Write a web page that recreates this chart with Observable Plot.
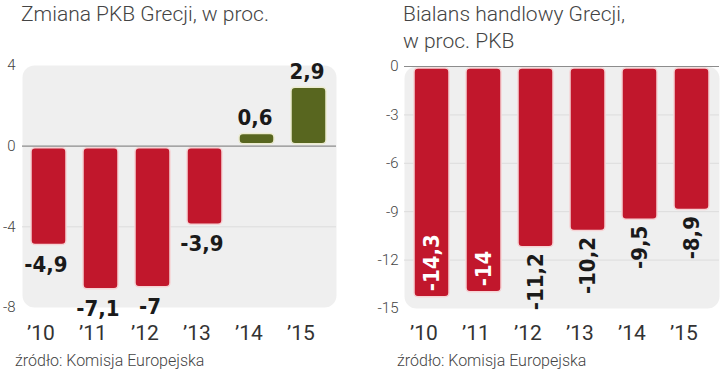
<!DOCTYPE html>
<html>
<head>
<meta charset="utf-8">
<script src="https://cdn.jsdelivr.net/npm/d3@7"></script>
<script src="https://cdn.jsdelivr.net/npm/@observablehq/plot@0.6"></script>
<style>
  html, body { margin: 0; padding: 0; background: #fff; }
  body { width: 720px; height: 372px; overflow: hidden; position: relative; font-family: Roboto, sans-serif; }
  .title { position: absolute; top: 1px; font-size: 21px; font-weight: 300; line-height: 27px; color: #444; white-space: nowrap; }
  .src { position: absolute; top: 353px; font-size: 16px; font-weight: 300; line-height: 16px; color: #444; white-space: nowrap; }
  .panel { position: absolute; top: 50px; width: 360px; height: 295px; }
</style>
</head>
<body>
<div class="title" style="left:21px">Zmiana PKB Grecji, w proc.</div>
<div class="title" style="left:403px">Bialans handlowy Grecji,<br>w proc. PKB</div>
<div class="panel" id="left" style="left:0"></div>
<div class="panel" id="right" style="left:360px"></div>
<div class="src" style="left:15px">źródło: Komisja Europejska</div>
<div class="src" style="left:397px">źródło: Komisja Europejska</div>
<script>
const years = ["’10", "’11", "’12", "’13", "’14", "’15"];
const gdpChange = [-4.9, -7.1, -7, -3.9, 0.6, 2.9];
const tradeBalance = [-14.3, -14, -11.2, -10.2, -9.5, -8.9];
const gdpTicks = [4, 0, -4, -8];
const tradeTicks = [0, -3, -6, -9, -12, -15];

const RED = "#c1172c", GREEN = "#58661f";
const fmt = v => String(v).replace(".", ",");
const gdp = years.map((year, i) => ({year, v: gdpChange[i]}));
const trade = years.map((year, i) => ({year, v: tradeBalance[i]}));

const labelFont = {fontFamily: "'DejaVu Sans Condensed', 'DejaVu Sans', sans-serif", fontWeight: "bold", fontSize: 22};
const commonStyle = {background: "transparent", overflow: "visible", fontFamily: "Roboto, sans-serif"};
const interior = (ticks) => ticks.filter(t => t !== 0 && t > d3.min(ticks) && t < d3.max(ticks));

const left = Plot.plot({
  width: 360, height: 295,
  marginTop: 15, marginBottom: 38, marginLeft: 22, marginRight: 24,
  style: commonStyle,
  x: {domain: years, paddingInner: 0.32, paddingOuter: 0.14, axis: null},
  y: {domain: [d3.min(gdpTicks), d3.max(gdpTicks)], axis: null},
  marks: [
    Plot.frame({fill: "#efefef", stroke: "none", rx: 12}),
    Plot.ruleY(interior(gdpTicks), {stroke: "#dcdcdc"}),
    Plot.ruleY([0], {stroke: "#8c8c8c", strokeWidth: 1.2}),
    Plot.barY(gdp.filter(d => d.v < 0), {x: "year", y: "v", fill: RED, stroke: "#f6d3d5", strokeWidth: 1.5, rx: 4, insetTop: 2}),
    Plot.barY(gdp.filter(d => d.v >= 0), {x: "year", y: "v", fill: GREEN, stroke: "#ecebd0", strokeWidth: 1.5, rx: 4, insetBottom: 2}),
    Plot.text(gdp.filter(d => d.v < 0), {x: "year", y: "v", text: d => fmt(d.v), lineAnchor: "top", dy: 11, dx: -3, fill: "#1a1a1a", ...labelFont}),
    Plot.text(gdp.filter(d => d.v >= 0), {x: "year", y: "v", text: d => fmt(d.v), lineAnchor: "bottom", dy: -9, dx: -2, fill: "#1a1a1a", ...labelFont}),
    Plot.axisY(gdpTicks, {tickSize: 0, tickPadding: 7, tickFormat: d => String(d), fontSize: 15, fontWeight: 300, fill: "#444", label: null}),
    Plot.axisX({tickSize: 0, tickPadding: 18, fontSize: 21, fill: "#333", dx: -8, label: null})
  ]
});
document.getElementById("left").appendChild(left);

const right = Plot.plot({
  width: 360, height: 295,
  marginTop: 16, marginBottom: 37, marginLeft: 44, marginRight: 1,
  style: commonStyle,
  x: {domain: years, paddingInner: 0.32, paddingOuter: 0.14, axis: null},
  y: {domain: [d3.min(tradeTicks), d3.max(tradeTicks)], axis: null},
  marks: [
    Plot.frame({fill: "#efefef", stroke: "none", rx: 12}),
    Plot.ruleY(interior(tradeTicks), {stroke: "#dcdcdc"}),
    Plot.ruleY([0], {stroke: "#8c8c8c", strokeWidth: 1.2}),
    Plot.barY(trade, {x: "year", y: "v", fill: RED, stroke: "#f6d3d5", strokeWidth: 1.5, rx: 4, insetTop: 2}),
    Plot.text(trade.filter(d => d.v < -13), {x: "year", y: "v", text: d => fmt(d.v), rotate: -90, textAnchor: "start", lineAnchor: "middle", dy: -6, fill: "#fff", ...labelFont}),
    Plot.text(trade.filter(d => d.v >= -13), {x: "year", y: "v", text: d => fmt(d.v), rotate: -90, textAnchor: "end", lineAnchor: "middle", dy: 6, fill: "#1a1a1a", ...labelFont}),
    Plot.axisY(tradeTicks, {tickSize: 0, tickPadding: 6, tickFormat: d => String(d), fontSize: 15, fontWeight: 300, fill: "#444", label: null}),
    Plot.axisX({tickSize: 0, tickPadding: 17, fontSize: 21, fill: "#333", dx: -8, label: null})
  ]
});
document.getElementById("right").appendChild(right);
</script>
</body>
</html>
